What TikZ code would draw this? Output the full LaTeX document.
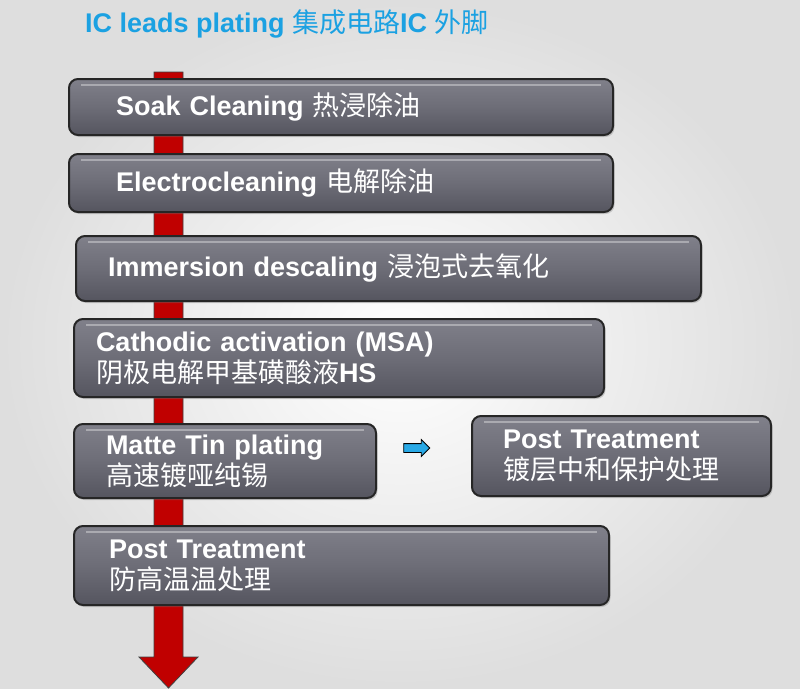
\documentclass[tikz,border=0pt]{standalone}
\usepackage{fontspec}
\setmainfont{Liberation Sans}
\newfontfamily\cjk{Noto Sans CJK SC}
\usetikzlibrary{shapes.arrows,shadows}
\newcommand{\zh}[1]{{\cjk\mdseries #1}}
\definecolor{titleblue}{HTML}{1BA1E2}
\definecolor{arrowblue}{HTML}{29A9E6}
\definecolor{arrowred}{HTML}{C00000}
\definecolor{boxtop}{HTML}{80808A}
\definecolor{boxmid}{HTML}{6D6D77}
\definecolor{boxbot}{HTML}{55555F}
\tikzset{
	stage/.style 2 args={anchor=north west,rounded corners=9pt,draw=black!85,line width=2pt,
		top color=boxtop,bottom color=boxbot,middle color=boxmid,
		drop shadow={opacity=0.35,shadow xshift=1.5pt,shadow yshift=-2pt},
		text=white,font=\bfseries\fontsize{27}{31}\selectfont,align=left,
		inner xsep=#1,inner ysep=2pt,text width=#2,
		path picture={\draw[white,opacity=0.35,line width=1.5pt]
			([xshift=12pt,yshift=-6pt]path picture bounding box.north west) --
			([xshift=-12pt,yshift=-6pt]path picture bounding box.north east);}},
	goarrow/.style={single arrow,draw=black,line width=0.8pt,fill=arrowblue,
		minimum height=26pt,minimum width=16pt,single arrow head extend=4pt,
		inner xsep=0pt,inner ysep=4pt}
}
\begin{document}
\begin{tikzpicture}[x=1pt,y=-1pt]
	\useasboundingbox (0,0) rectangle (800,688);
	\shade[inner color=white,outer color=black!13] (0,0) rectangle (800,688);

	\node [anchor=base west,inner sep=0pt,text=titleblue,font=\bfseries\fontsize{27}{31}\selectfont]
		(title) at (85,32) {IC leads plating \zh{集成电路}IC \zh{外脚}};

	% red process line
	\draw[fill=arrowred,draw=black!75,line width=0.8pt]
		(154,72) -- (183,72) -- (183,657) -- (198,657) -- (168.5,688) -- (139,657) -- (154,657) -- cycle;

	\node [stage={47pt}{450pt},minimum height=56pt] (soak) at (68,78) {Soak Cleaning \zh{热浸除油}};
	\node [stage={47pt}{450pt},minimum height=58pt] (electro) at (68,153) {Electrocleaning \zh{电解除油}};
	\node [stage={32pt}{561pt},minimum height=65pt] (descale) at (75,235) {Immersion descaling \zh{浸泡式去氧化}};
	\node [stage={22pt}{486pt},minimum height=78pt] (activ) at (73,318) {Cathodic activation (MSA)\\\zh{阴极电解甲基磺酸液}HS};
	\node [stage={32pt}{238pt},minimum height=74pt] (tin) at (73,423) {Matte Tin plating\\\zh{高速镀哑纯锡}};
	\node [stage={31pt}{237pt},minimum height=80pt] (neutral) at (471,415) {Post Treatment\\\zh{镀层中和保护处理}};
	\node [stage={35pt}{465pt},minimum height=79pt] (heat) at (73,525) {Post Treatment\\\zh{防高温温处理}};

	\node [goarrow] (go) at (414.5,448) {};
\end{tikzpicture}
\end{document}
